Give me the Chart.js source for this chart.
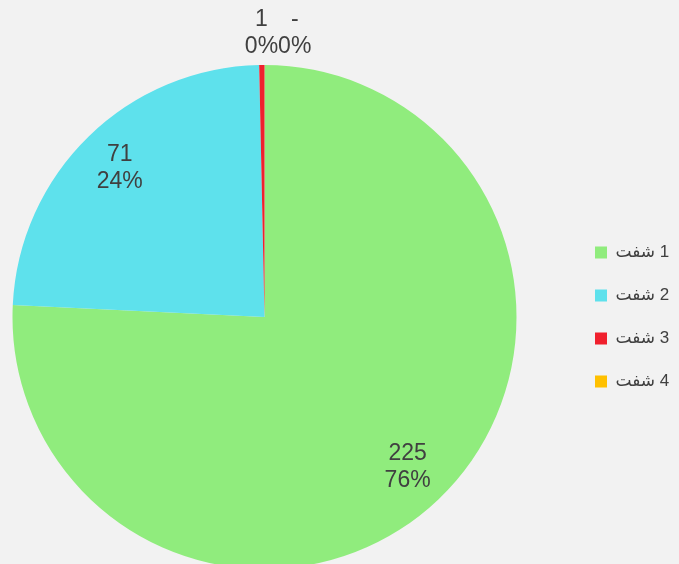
<!DOCTYPE html>
<html>
<head>
<meta charset="utf-8">
<script src="https://cdn.jsdelivr.net/npm/chart.js@4/dist/chart.umd.min.js"></script>
<style>
  html, body { margin: 0; padding: 0; background: #f2f2f2; overflow: hidden; }
  #wrap { position: relative; width: 679px; height: 564px; overflow: hidden; }
  #box  { position: absolute; left: -40px; top: 0; width: 719px; height: 580px; }
</style>
</head>
<body>
<div id="wrap"><div id="box"><canvas id="shiftChart"></canvas></div></div>
<script>
// ---- Data ---------------------------------------------------
const labels = ["1 شفت", "2 شفت", "3 شفت", "4 شفت"];
const values = [225, 71, 1, 0];
const colors = ["#90ec7d", "#5ee1ec", "#f0202d", "#ffc000"];

const FONT = "'Liberation Sans', Arial, 'DejaVu Sans', sans-serif";
const TEXT = "#404040";
const LEGEND_W = 110;

// ---- Fixed-width legend so the pie keeps its place ----------
const legendWidth = {
  id: "legendWidth",
  beforeLayout(chart) {
    const lg = chart.legend;
    if (!lg || lg._fixedWidth) return;
    const fit = lg.fit;
    lg.fit = function () { fit.call(this); this.width = LEGEND_W; };
    lg._fixedWidth = true;
  },
};

// ---- Value + percent labels on each slice --------------------
const sliceLabels = {
  id: "sliceLabels",
  afterDatasetsDraw(chart) {
    const { ctx } = chart;
    const meta  = chart.getDatasetMeta(0);
    const total = values.reduce((a, b) => a + b, 0);
    const lineGap = 27;
    let prev = null;

    ctx.save();
    ctx.font = `23px ${FONT}`;
    ctx.fillStyle = TEXT;
    ctx.textAlign = "center";
    ctx.textBaseline = "middle";

    meta.data.forEach((arc, i) => {
      const v = values[i];
      const share = v / total;
      const mid = (arc.startAngle + arc.endAngle) / 2;
      const dist = share < 0.02 ? arc.outerRadius * 1.127 : arc.outerRadius * 0.823;
      let x = arc.x + Math.cos(mid) * dist;
      const y = arc.y + Math.sin(mid) * dist;

      const top = v === 0 ? "-" : String(v);
      const pct = Math.round(share * 100) + "%";
      const w = Math.max(ctx.measureText(top).width, ctx.measureText(pct).width);

      // push apart labels that would sit on top of each other
      if (prev && Math.abs(prev.y - y) < lineGap * 2 && x - w / 2 < prev.right) {
        x = prev.right + w / 2;
      }
      prev = { right: x + w / 2, y };

      ctx.fillText(top, x, y - lineGap / 2);
      ctx.fillText(pct, x, y + lineGap / 2);
    });
    ctx.restore();
  },
};

// ---- Chart --------------------------------------------------
new Chart(document.getElementById("shiftChart"), {
  type: "pie",
  data: {
    labels,
    datasets: [{
      data: values,
      backgroundColor: colors,
      borderWidth: 0,
      hoverOffset: 0,
    }],
  },
  options: {
    responsive: true,
    maintainAspectRatio: false,
    animation: false,
    layout: { padding: { left: 0, top: 65, bottom: 11, right: 0 } },
    plugins: {
      legend: {
        position: "right",
        textDirection: "rtl",
        labels: {
          boxWidth: 12,
          boxHeight: 12,
          padding: 26,
          color: TEXT,
          font: { family: FONT, size: 17 },
        },
      },
      tooltip: { enabled: false },
    },
  },
  plugins: [legendWidth, sliceLabels],
});
</script>
</body>
</html>
